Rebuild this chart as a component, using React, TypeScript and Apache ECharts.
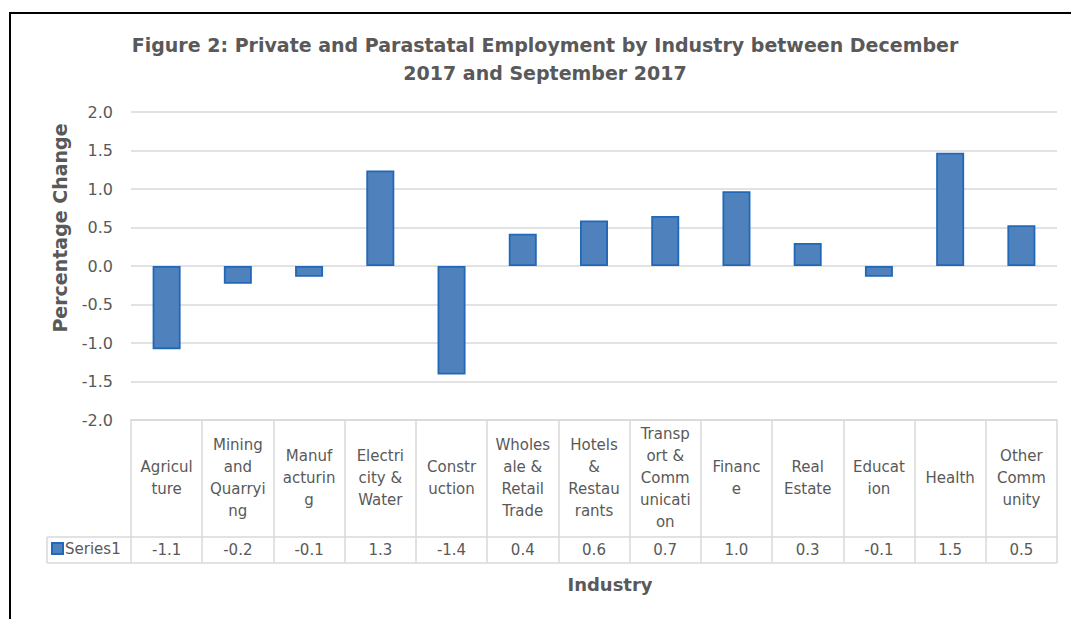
import React, { useEffect, useRef } from "react";
import * as echarts from "echarts";

const categories = [
  "Agriculture",
  "Mining and Quarrying",
  "Manufacturing",
  "Electricity & Water",
  "Construction",
  "Wholesale & Retail Trade",
  "Hotels & Restaurants",
  "Transport & Communication",
  "Finance",
  "Real Estate",
  "Education",
  "Health",
  "Other Community",
];

const wrappedLabels = [
  "Agricul\nture",
  "Mining\nand\nQuarryi\nng",
  "Manuf\nacturin\ng",
  "Electri\ncity &\nWater",
  "Constr\nuction",
  "Wholes\nale &\nRetail\nTrade",
  "Hotels\n&\nRestau\nrants",
  "Transp\nort &\nComm\nunicati\non",
  "Financ\ne",
  "Real\nEstate",
  "Educat\nion",
  "Health",
  "Other\nComm\nunity",
];

const values = [-1.08, -0.23, -0.14, 1.24, -1.41, 0.42, 0.59, 0.65, 0.97, 0.3, -0.14, 1.47, 0.53];

const tableLabels = ["-1.1", "-0.2", "-0.1", "1.3", "-1.4", "0.4", "0.6", "0.7", "1.0", "0.3", "-0.1", "1.5", "0.5"];

const seriesName = "Series1";
const titleText = "Figure 2: Private and Parastatal Employment by Industry between December\n2017 and September 2017";

const FONT = '"DejaVu Sans", sans-serif';
const TXT = "#595959";
const LINE = "#d9d9d9";

const W = 1071;
const H = 619;
const GRID_L = 131;
const GRID_R = 1057;
const GRID_T = 112;
const GRID_B = 420;
const HEADER_H = 117;
const ROW_H = 26;
const LEG_L = 47;

export default function App() {
  const ref = useRef<HTMLDivElement>(null);

  useEffect(() => {
    if (!ref.current) return;
    const chart = echarts.init(ref.current, null, { renderer: "svg" });
    const rowTop = GRID_B + HEADER_H;
    const rowBot = rowTop + ROW_H;
    chart.setOption({
      animation: false,
      backgroundColor: "#ffffff",
      legend: {
        data: [seriesName],
        left: 51,
        top: rowTop + 4,
        padding: 0,
        icon: "rect",
        itemWidth: 11,
        itemHeight: 11,
        itemGap: 0,
        textStyle: { fontFamily: FONT, fontSize: 15, color: TXT, padding: [0, 0, 0, -3] },
      },
      grid: {
        left: GRID_L,
        right: W - GRID_R,
        top: GRID_T,
        bottom: H - GRID_B,
        containLabel: false,
      },
      xAxis: [
        {
          type: "category",
          data: categories,
          position: "bottom",
          axisLine: { show: true, onZero: false, lineStyle: { color: LINE, width: 1.5 } },
          axisTick: { show: true, interval: 0, length: HEADER_H + ROW_H, lineStyle: { color: LINE, width: 1.5 } },
          axisLabel: {
            interval: 0,
            formatter: (_v: string, i: number) => wrappedLabels[i],
            verticalAlign: "middle",
            align: "center",
            margin: 58,
            lineHeight: 22,
            fontFamily: FONT,
            fontSize: 15,
            color: TXT,
          },
          splitLine: { show: false },
        },
        {
          type: "category",
          data: tableLabels,
          position: "bottom",
          offset: HEADER_H,
          axisLine: { show: true, onZero: false, lineStyle: { color: LINE, width: 1.5 } },
          axisTick: { show: false },
          axisLabel: {
            interval: 0,
            verticalAlign: "middle",
            margin: 13,
            fontFamily: FONT,
            fontSize: 15,
            color: TXT,
          },
          splitLine: { show: false },
        },
      ],
      yAxis: {
        type: "value",
        min: -2,
        max: 2,
        interval: 0.5,
        axisLine: { show: false },
        axisTick: { show: false },
        axisLabel: {
          formatter: (v: number) => v.toFixed(1),
          margin: 18,
          fontFamily: FONT,
          fontSize: 16,
          color: TXT,
        },
        splitLine: { show: true, lineStyle: { color: LINE, width: 1.5 } },
      },
      series: [
        {
          name: seriesName,
          type: "bar",
          xAxisIndex: 0,
          data: values,
          barWidth: 28,
          itemStyle: { color: "#4f81bd", borderColor: "#2268b8", borderWidth: 1.8 },
        },
      ],
      graphic: [
        { type: "line", shape: { x1: 9, y1: 13, x2: W, y2: 13 }, style: { stroke: "#000", lineWidth: 2 } },
        { type: "line", shape: { x1: 10, y1: 12, x2: 10, y2: H }, style: { stroke: "#000", lineWidth: 2 } },
        { type: "line", shape: { x1: LEG_L, y1: rowBot, x2: GRID_R, y2: rowBot }, style: { stroke: LINE, lineWidth: 1.5 } },
        { type: "line", shape: { x1: LEG_L, y1: rowTop, x2: GRID_L, y2: rowTop }, style: { stroke: LINE, lineWidth: 1.5 } },
        { type: "line", shape: { x1: LEG_L, y1: rowTop, x2: LEG_L, y2: rowBot }, style: { stroke: LINE, lineWidth: 1.5 } },
        {
          type: "text",
          x: 545,
          y: 31,
          style: {
            text: titleText,
            fill: TXT,
            font: `bold 19px ${FONT}`,
            lineHeight: 28,
            textAlign: "center",
            textVerticalAlign: "top",
          },
        },
        {
          type: "text",
          x: 60,
          y: 228,
          rotation: Math.PI / 2,
          style: {
            text: "Percentage Change",
            fill: TXT,
            font: `bold 19px ${FONT}`,
            textAlign: "center",
            textVerticalAlign: "middle",
          },
        },
        {
          type: "text",
          x: 610,
          y: 584,
          style: {
            text: "Industry",
            fill: TXT,
            font: `bold 18px ${FONT}`,
            textAlign: "center",
            textVerticalAlign: "middle",
          },
        },
      ],
    });
    return () => chart.dispose();
  }, []);

  return (
    <div
      ref={ref}
      style={{ position: "fixed", left: 0, top: 0, width: W + "px", height: H + "px", background: "#fff" }}
    />
  );
}
